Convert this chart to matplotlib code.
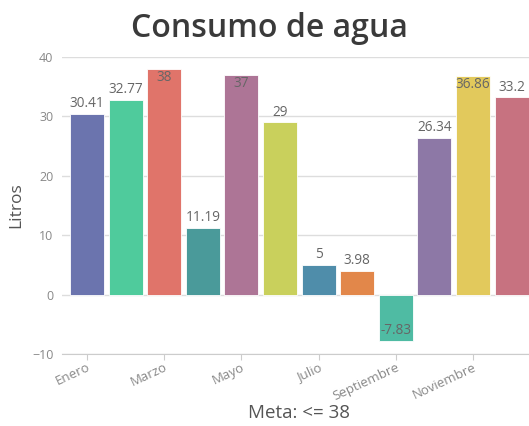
import matplotlib.pyplot as plt
import numpy as np

plt.rcParams['font.family'] = ['Open Sans', 'DejaVu Sans']

# data
meses = ['Enero', 'Febrero', 'Marzo', 'Abril', 'Mayo', 'Junio', 'Julio',
         'Agosto', 'Septiembre', 'Octubre', 'Noviembre', 'Diciembre']
litros = [30.41, 32.77, 38, 11.19, 37, 29, 5, 3.98, -7.83, 26.34, 36.86, 33.2]
colores = ['#6B74AE', '#4FCB9C', '#E0746A', '#4A9A9A', '#AD7596', '#C9D05C',
           '#4F8DAA', '#E2874A', '#4FBBA3', '#8D78A6', '#E2C95C', '#C77280']
yticks = [-10, 0, 10, 20, 30, 40]

fig = plt.figure(figsize=(5.29, 4.26), dpi=100)
ax = fig.add_axes([0.117, 0.169, 0.883, 0.697])

x = np.arange(len(meses))
ax.bar(x, litros, width=0.88, color=colores, edgecolor='white', linewidth=0.6, zorder=3)

# etiquetas de valor (dentro si no hay espacio)
for xi, v in zip(x, litros):
    txt = f'{v:g}'
    if v > 34:
        ax.annotate(txt, (xi, v), xytext=(0, -1), textcoords='offset points',
                    ha='center', va='top', fontsize=9.8, color='#666666', zorder=4)
    elif v < -5:
        ax.annotate(txt, (xi, v), xytext=(0, 2), textcoords='offset points',
                    ha='center', va='bottom', fontsize=9.8, color='#666666', zorder=4)
    else:
        ax.annotate(txt, (xi, v), xytext=(0, 2), textcoords='offset points',
                    ha='center', va='bottom', fontsize=9.8, color='#666666', zorder=4)

ax.set_xlim(-0.65, 11.45)
ax.set_ylim(-10, 40)
ax.set_yticks(yticks)
ax.grid(axis='y', color='#dddddd', linewidth=1, zorder=0)
ax.set_xticks(x[::2])
ax.set_xticklabels(meses[::2], rotation=25, ha='right', rotation_mode='anchor')
ax.tick_params(axis='x', colors='#888888', labelsize=9.5, length=4, color='#cccccc', pad=1)
ax.tick_params(axis='y', colors='#888888', labelsize=9, length=0, pad=6)
for s in ['top', 'right', 'left']:
    ax.spines[s].set_visible(False)
ax.spines['bottom'].set_color('#cccccc')

ax.set_ylabel('Litros', fontsize=12.5, color='#555555', labelpad=6)
fig.text(0.565, 0.03, 'Meta: <= 38', ha='center', va='center',
         fontsize=13.5, color='#555555')
fig.text(0.51, 0.932, 'Consumo de agua', ha='center', va='center',
         fontsize=23, fontweight='semibold', color='#3a3a3a')

fig.savefig('out.png', dpi=100)
